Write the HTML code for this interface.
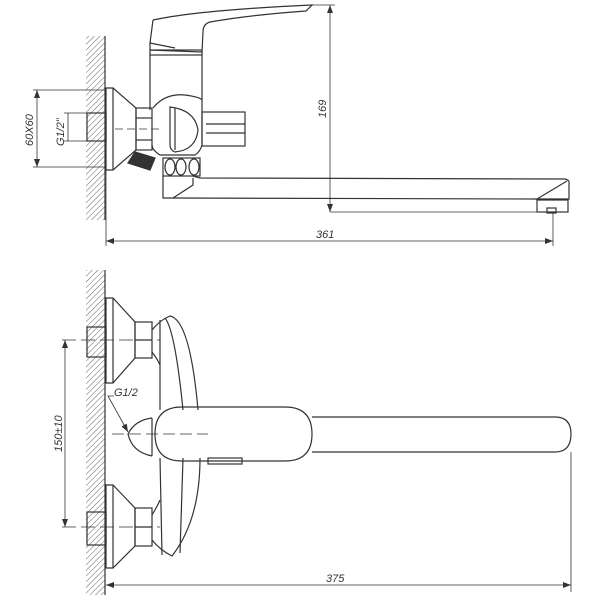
<!DOCTYPE html>
<html><head><meta charset="utf-8"><style>
html,body{margin:0;padding:0;background:#fff}
svg{display:block}
text{font-family:"Liberation Sans",sans-serif;font-style:italic;font-size:11px;fill:#333}
</style></head><body>
<svg width="600" height="600" viewBox="0 0 600 600" xmlns="http://www.w3.org/2000/svg">
<defs>
<pattern id="h" width="4" height="4" patternUnits="userSpaceOnUse" patternTransform="rotate(45)">
<line x1="0" y1="0" x2="0" y2="4" stroke="#666" stroke-width="1"/>
</pattern>
<marker id="a" markerWidth="8" markerHeight="6" refX="8" refY="3" orient="auto-start-reverse" markerUnits="userSpaceOnUse">
<path d="M0,0 L8,3 L0,6 Z" fill="#333"/></marker>
</defs>
<g fill="none" stroke="#333" stroke-width="1.2">
<!-- walls -->
<rect x="86" y="36" width="19" height="184" fill="url(#h)" stroke="none"/>
<line x1="105" y1="36" x2="105" y2="220"/>
<rect x="86" y="270" width="19" height="325" fill="url(#h)" stroke="none"/>
<line x1="105" y1="270" x2="105" y2="595"/>

<!-- TOP VIEW -->
<rect x="87" y="113" width="19" height="28"/>
<path d="M106,88 L113,88 L136,108 L136,150 L113,170 L106,170 Z"/>
<line x1="113" y1="88" x2="113" y2="170"/>
<rect x="136" y="108" width="16" height="42"/>
<line x1="136" y1="118" x2="152" y2="118"/><line x1="136" y1="140" x2="152" y2="140"/>
<line x1="115" y1="129" x2="160" y2="129" stroke-dasharray="8,4" stroke-width="0.8"/>
<!-- handle -->
<path d="M153,20 Q200,10 312,5 L306,11 Q250,15 210,22 Q203,24 203,32 L202,52 L150,50 L150,43 L175,48"/>
<path d="M153,20 L150,43"/>
<rect x="150" y="50" width="52" height="5"/>
<!-- body -->
<path d="M150,55 L150,110 M202,55 L202,100"/>
<path d="M153,108 Q165,93 185,95 Q200,97 202,100 L202,145 Q200,152 195,155 L160,155 Q152,150 152,145"/>
<path d="M170,107 Q195,110 198,130 Q196,150 175,152 Q170,150 170,145 Z"/>
<line x1="175" y1="108" x2="175" y2="150"/>
<rect x="202" y="112" width="43" height="34"/>
<line x1="206" y1="124" x2="245" y2="124"/><line x1="206" y1="133" x2="245" y2="133"/>
<path d="M128,163 L135,152 L155,158 L150,170 Z" fill="#333"/>
<rect x="163" y="158" width="37" height="18"/>
<ellipse cx="170" cy="167" rx="5" ry="8"/><ellipse cx="181" cy="167" rx="5" ry="8"/><ellipse cx="194" cy="167" rx="5" ry="8"/>
<!-- spout -->
<path d="M163,176 L163,198 L170,198 L537,199"/>
<path d="M193,176 L200,178 L565,179 Q570,180 569,184 L569,199 L537,199 L567,181"/>
<path d="M173,198 L193,185 L193,178"/>
<rect x="537" y="200" width="31" height="12"/>
<rect x="547" y="208" width="9" height="5"/>
<!-- dims top -->
<line x1="312" y1="5" x2="335" y2="5" stroke-width="0.8"/>
<line x1="330" y1="5" x2="330" y2="212" stroke-width="0.8" marker-start="url(#a)" marker-end="url(#a)"/>
<line x1="330" y1="212" x2="537" y2="212" stroke-width="0.8"/>
<line x1="106" y1="170" x2="106" y2="246" stroke-width="0.8"/>
<line x1="553" y1="212" x2="553" y2="246" stroke-width="0.8"/>
<line x1="106" y1="241" x2="553" y2="241" stroke-width="0.8" marker-start="url(#a)" marker-end="url(#a)"/>
<line x1="33" y1="90" x2="106" y2="90" stroke-width="0.8"/>
<line x1="33" y1="167" x2="106" y2="167" stroke-width="0.8"/>
<line x1="37" y1="90" x2="37" y2="167" stroke-width="0.8" marker-start="url(#a)" marker-end="url(#a)"/>
<line x1="64" y1="113" x2="87" y2="113" stroke-width="0.8"/>
<line x1="64" y1="141" x2="87" y2="141" stroke-width="0.8"/>
<line x1="68" y1="113" x2="68" y2="141" stroke-width="0.8"/>

<!-- BOTTOM VIEW -->
<rect x="87" y="327" width="19" height="30"/>
<path d="M106,298 L113,298 L135,322 L135,358 L113,383 L106,383 Z"/>
<line x1="113" y1="298" x2="113" y2="383"/>
<rect x="135" y="322" width="17" height="36"/>
<line x1="135" y1="340" x2="152" y2="340"/>
<rect x="87" y="512" width="19" height="33"/>
<path d="M106,485 L113,485 L135,508 L135,546 L113,568 L106,568 Z"/>
<line x1="113" y1="485" x2="113" y2="568"/>
<rect x="135" y="508" width="17" height="38"/>
<line x1="135" y1="527" x2="152" y2="527"/>
<!-- escutcheon -->
<path d="M152,330 Q160,320 170,316 Q190,320 198,410 M200,458 Q200,520 172,556 Q160,550 152,540"/>
<path d="M160,320 L160,410 M160,458 L162,555"/>
<path d="M165,318 Q175,330 183,410 M183,458 L180,553"/>
<path d="M152,352 Q158,360 160,365 M152,515 Q158,505 160,500"/>
<!-- hub -->
<path d="M152,418 Q135,420 128,434 Q132,452 152,456"/>
<line x1="152" y1="418" x2="152" y2="456"/>
<!-- lever & spout -->
<path d="M182,407 L285,407 Q312,407 312,434 Q312,461 285,461 L182,461 Q155,461 155,434 Q155,407 182,407 Z"/>
<path d="M312,417 L555,417 Q571,417 571,434 Q571,452 555,452 L312,452"/>
<rect x="208" y="458" width="34" height="6"/>
<line x1="112" y1="434" x2="208" y2="434" stroke-dasharray="12,5" stroke-width="0.8"/>
<line x1="62" y1="340" x2="160" y2="340" stroke-dasharray="14,5" stroke-width="0.8"/>
<line x1="62" y1="527" x2="160" y2="527" stroke-dasharray="14,5" stroke-width="0.8"/>
<line x1="65" y1="340" x2="65" y2="527" stroke-width="0.8" marker-start="url(#a)" marker-end="url(#a)"/>
<path d="M114,396 L108,396 L128,432" stroke-width="0.8" marker-end="url(#a)"/>
<line x1="571" y1="452" x2="571" y2="592" stroke-width="0.8"/>
<line x1="106" y1="585" x2="571" y2="585" stroke-width="0.8" marker-start="url(#a)" marker-end="url(#a)"/>
</g>
<text x="0" y="0" transform="translate(326,118) rotate(-90)">169</text>
<text x="316" y="238">361</text>
<text x="0" y="0" transform="translate(33,146) rotate(-90)">60X60</text>
<text x="0" y="0" transform="translate(64,146) rotate(-90)">G1/2"</text>
<text x="114" y="396">G1/2</text>
<text x="0" y="0" transform="translate(62,452) rotate(-90)">150±10</text>
<text x="326" y="582">375</text>
</svg>
</body></html>
